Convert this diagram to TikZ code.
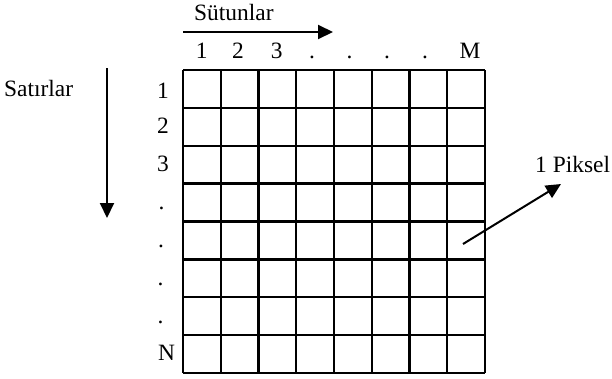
\documentclass[tikz,border=0pt]{standalone}
\usepackage{fontspec}
\setmainfont{Liberation Serif}
\usetikzlibrary{arrows.meta}
\tikzset{
  lbl/.style={inner sep=0pt, font=\fontsize{23.5}{27}\selectfont},
  arr/.style={line width=2bp, -{Triangle[length=15bp,width=14bp]}},
  gridline/.style={line width=2.4bp}
}
\begin{document}
\begin{tikzpicture}[x=1bp,y=-1bp]
\useasboundingbox (0,0) rectangle (612,378);
% grid
\foreach \i in {0,...,8} {
  \draw[gridline] ({183+37.75*\i},70) -- ({183+37.75*\i},373);
  \draw[gridline] (183,{70+37.875*\i}) -- (485,{70+37.875*\i});
}
% column header
\node[lbl, anchor=base west] (sut) at (194,20.7) {Sütunlar};
\coordinate (ha) at (183,32);
\coordinate (hb) at (333,32);
\draw[arr] (ha) -- (hb);
\node[lbl, anchor=base] (c1) at (201.7,58.3) {1};
\node[lbl, anchor=base] (c2) at (238,58.3) {2};
\node[lbl, anchor=base] (c3) at (276.7,58.3) {3};
\node[lbl, anchor=base] (c4) at (312,58.3) {.};
\node[lbl, anchor=base] (c5) at (349.5,58.3) {.};
\node[lbl, anchor=base] (c6) at (387,58.3) {.};
\node[lbl, anchor=base] (c7) at (425,58.3) {.};
\node[lbl, anchor=base] (cM) at (470,58.3) {M};
% row header
\node[lbl, anchor=base west] (sat) at (4,96.5) {Satırlar};
\coordinate (va) at (107,68);
\coordinate (vb) at (107,218);
\draw[arr] (va) -- (vb);
\node[lbl, anchor=base] (r1) at (163,98) {1};
\node[lbl, anchor=base] (r2) at (163,133.5) {2};
\node[lbl, anchor=base] (r3) at (163,171.5) {3};
\node[lbl, anchor=base] (r4) at (161.5,209.5) {.};
\node[lbl, anchor=base] (r5) at (161,247.5) {.};
\node[lbl, anchor=base] (r6) at (160.5,285.5) {.};
\node[lbl, anchor=base] (r7) at (160.5,323.5) {.};
\node[lbl, anchor=base] (rN) at (166.7,360) {N};
% pixel label
\node[lbl, anchor=base west] (pix) at (535,172) {1 Piksel};
\coordinate (pa) at (463,244);
\coordinate (pb) at (561,184);
\draw[arr] (pa) -- (pb);
\end{tikzpicture}
\end{document}
